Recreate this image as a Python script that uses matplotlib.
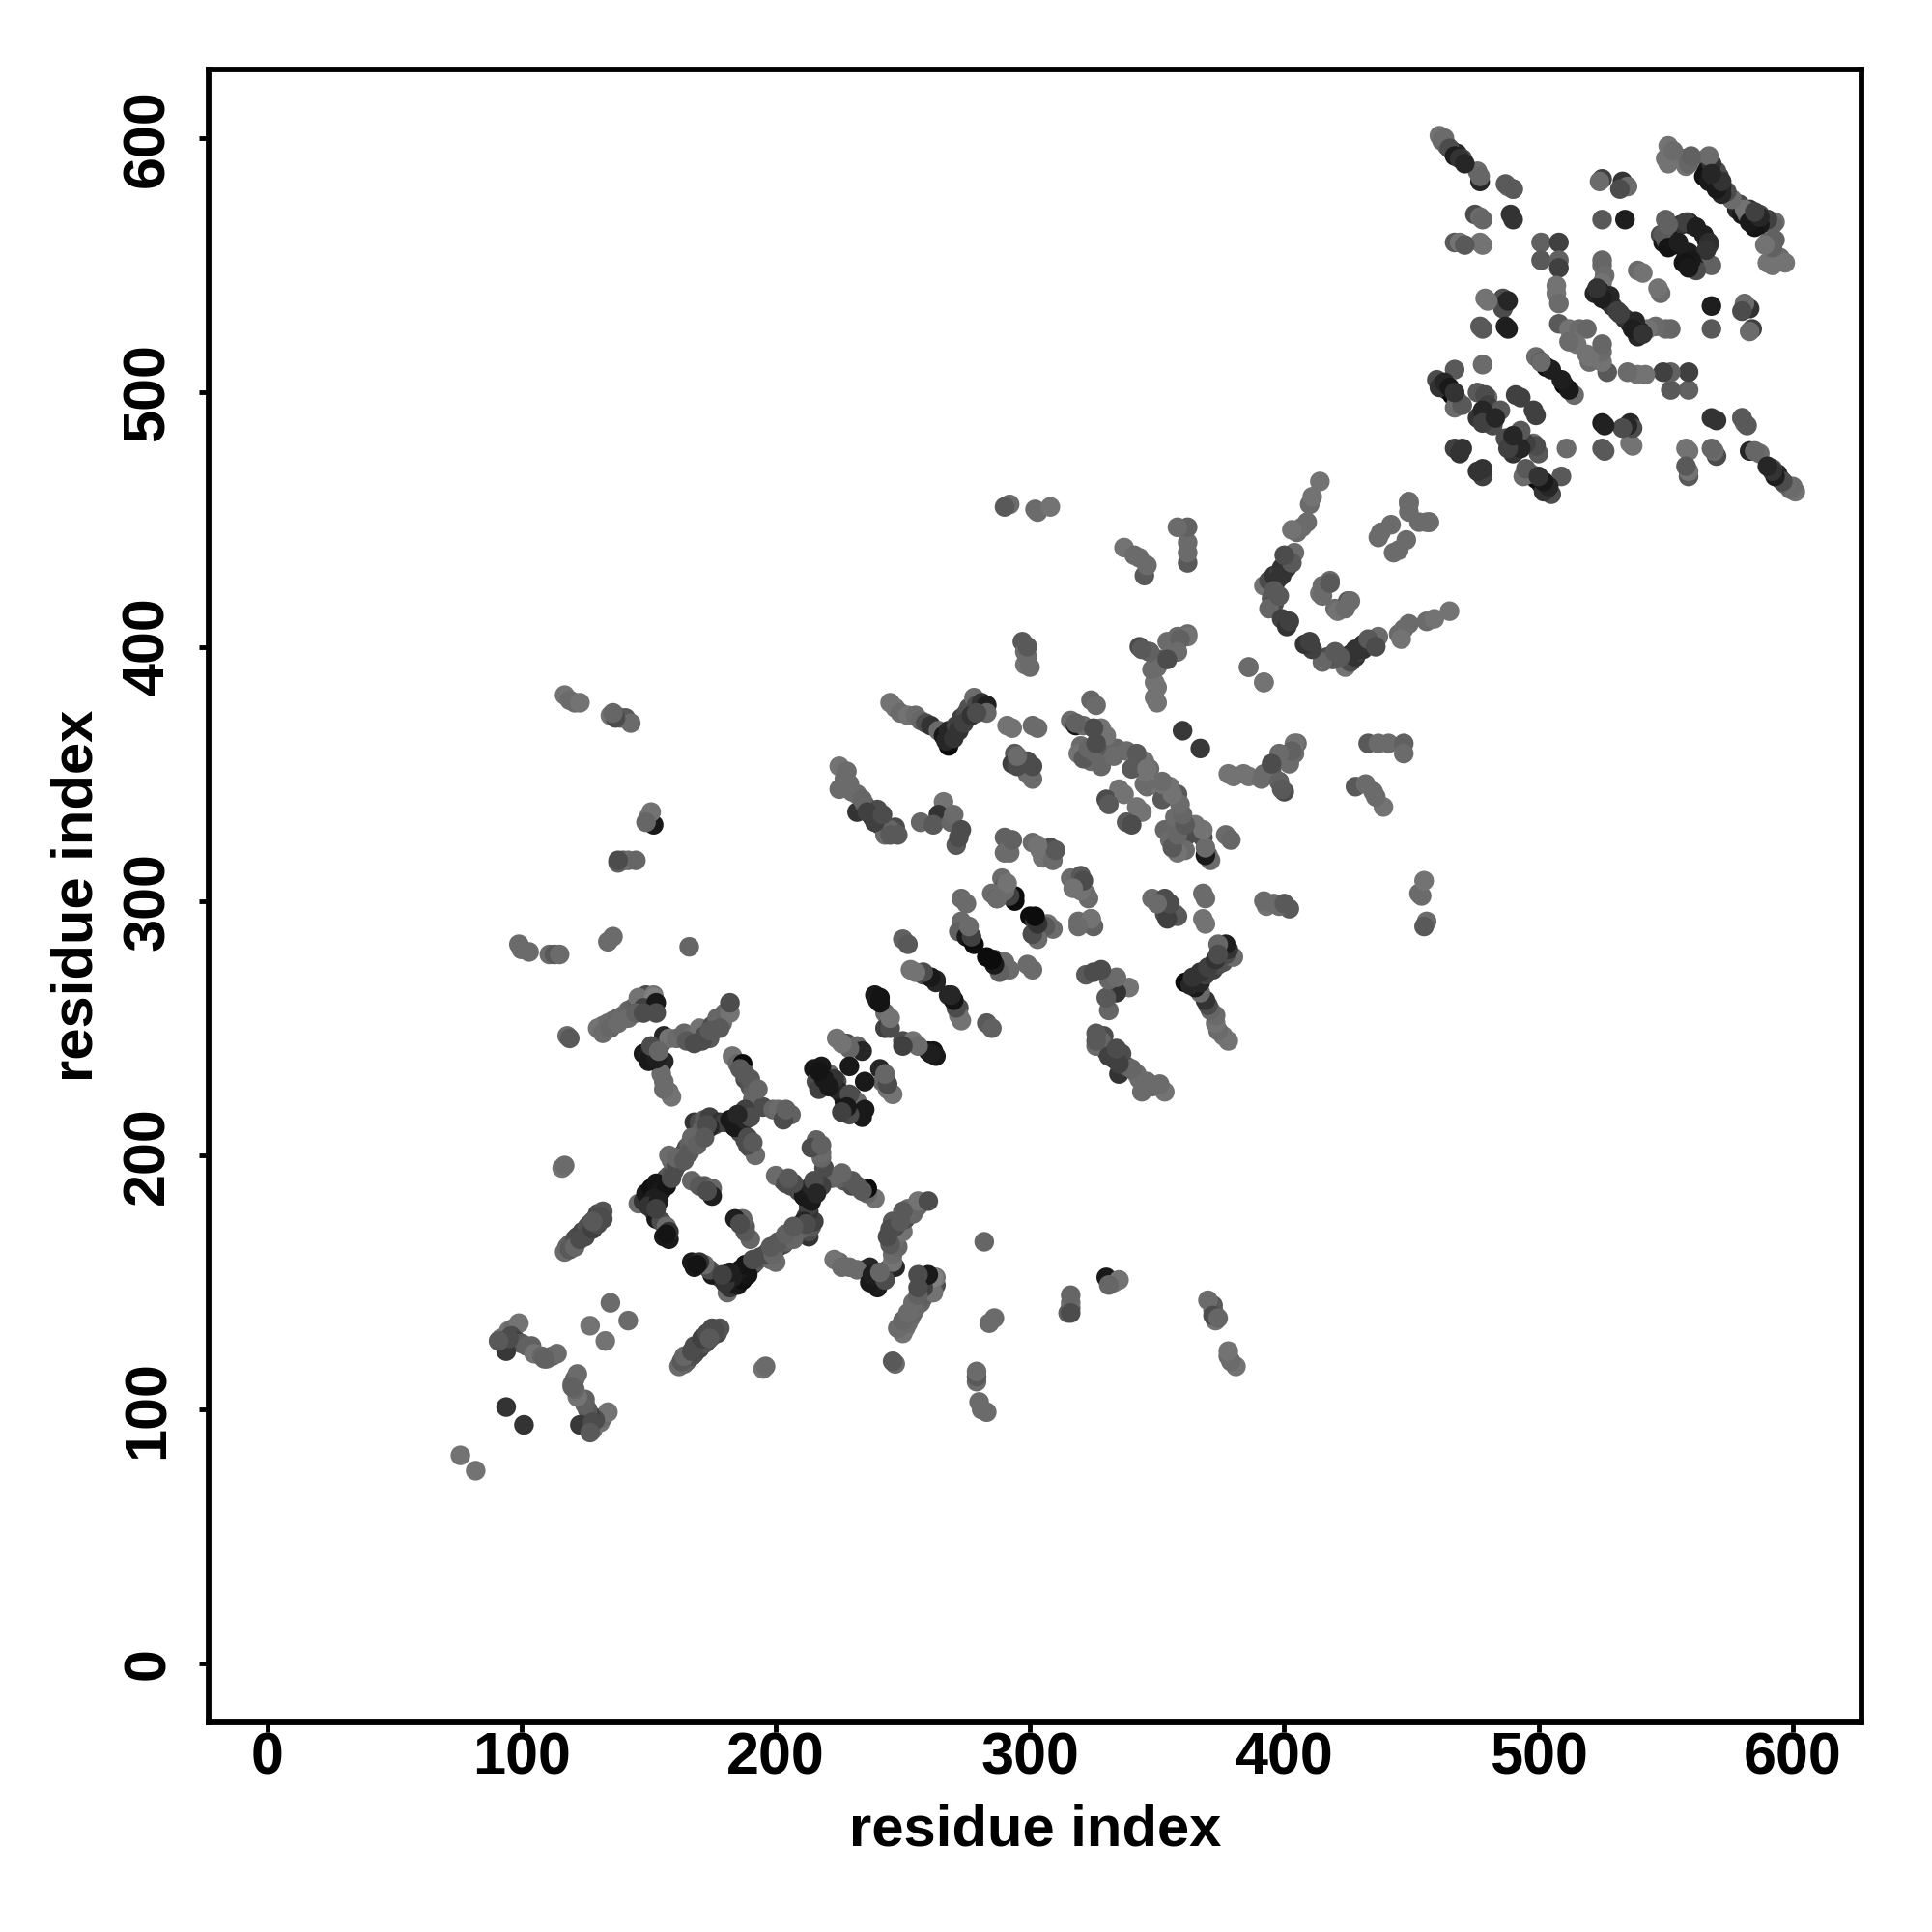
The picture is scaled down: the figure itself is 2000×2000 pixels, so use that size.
import numpy as np
import matplotlib
matplotlib.use('Agg')
import matplotlib.pyplot as plt

plt.rcParams['font.family'] = ['Liberation Sans', 'DejaVu Sans']
plt.rcParams['font.weight'] = 'bold'

### contacts: (residue i, residue j, grey level), map is symmetric
nterm = [(76,82,.45),(94,101,.2),(92,128,.45),(94,124,.35),(95,131,.45),(97,132,.42),(99,134,.45),
    (96,129,.3),(98,127,.25),(100,126,.35),(102,125,.38),(104,125,.38),(105,122,.45),(108,121,.4),
    (110,120,.42),(112,121,.38),(114,122,.42),(109,120,.38),(94,123,.22),(95,128,.3),(91,127,.35),
    (135,142,.42),(127,133,.45)]

strand_116 = [(117,162,.42),(118,164,.4),(119,165,.38),(121,167,.32),(122,168,.3),(124,170,.28),
    (126,172,.33),(127,173,.3),(129,175,.35),(130,177,.3),(132,178,.33),(131,176,.3),
    (116,195,.45),(117,196,.42),(118,247,.42),(119,246,.35),
    (119,163,.35),(121,164,.4),(123,167,.3),(125,168,.3),(128,171,.25),(130,173,.3),(132,175,.3),(128,174,.35)]

strand_130 = [(130,250,.45),(132,251,.45),(134,252,.42),(136,253,.42),(138,254,.4),(140,255,.42),
    (142,257,.4),(144,258,.38),(146,259,.35),(148,260,.35),(150,261,.38),(151,258,.25),(149,263,.3),
    (152,263,.45),(146,262,.45),(152,262,.5),(148,258,.25),(153,260,.1),(153,256,.3),
    (132,248,.42),(135,250,.4),(138,252,.42),(142,254,.42),(145,256,.38),(148,256,.3)]

far_left = [(99,283,.42),(100,281,.42),(103,280,.42),(111,279,.42),(113,279,.35),(115,279,.42),
    (134,284,.42),(136,286,.42),(166,282,.4),(138,315,.38),(140,316,.35),(142,316,.42),(145,316,.4),
    (138,316,.3),(150,333,.45),(152,330,.1),(151,335,.45),(149,331,.4),(117,381,.45),(119,379,.42),
    (121,378,.42),(123,378,.45),(135,373,.45),(137,373,.35),(139,372,.38),(141,372,.35),(143,370,.42),
    (137,372,.3),(136,374,.4)]

hub_240 = [(148,240,.1),(150,241,.12),(152,239,.15),(153,243,.2),(155,244,.3),(156,247,.15),(158,246,.45),
    (161,246,.42),(164,248,.4),(167,247,.42),(170,250,.45),(172,247,.3),(174,246,.35),(171,245,.3),
    (175,251,.3),(177,254,.4),(179,252,.42),(180,256,.4),(182,256,.45),(182,260,.3),(155,235,.12),
    (156,237,.15),(156,229,.42),(155,232,.42),(158,225,.42),(159,223,.45),(156,226,.42),
    (150,237,.1),(153,238,.12),(151,243,.3),(154,241,.4),(165,245,.35),(168,244,.3),(174,249,.35),(178,250,.35)]

hub_215 = [(183,212,.15),(185,213,.1),(186,215,.1),(187,216,.12),(189,217,.2),(190,218,.3),(192,220,.42),
    (191,219,.35),(184,214,.12),(187,214,.2),(168,213,.2),(170,213,.3),(172,214,.35),(174,215,.25),
    (176,212,.3),(178,213,.2),(180,213,.25),(174,211,.15),(183,239,.45),(185,236,.4),(187,236,.05),
    (186,234,.35),(188,230,.3),(190,227,.32),(191,225,.38),(191,222,.4),(195,219,.3),(199,218,.4),
    (201,218,.42),(204,216,.35),(206,216,.38),(186,209,.3),(188,206,.3),(190,203,.3),(192,200,.42),
    (189,204,.3),
    (182,214,.1),(184,211,.1),(186,212,.1),(188,214,.15),(188,218,.25),(190,215,.3),(185,216,.15),
    (188,232,.35),(190,230,.35),(193,226,.4),(189,207,.3),(191,205,.35),(203,214,.3),(204,218,.38)]

hub_185 = [(146,181,.42),(148,182,.2),(150,184,.1),(152,186,.08),(154,187,.08),(155,189,.1),(153,185,.1),
    (157,191,.25),(158,192,.35),(160,194,.3),(159,198,.4),(158,200,.42),(162,197,.25),(163,199,.42),
    (164,201,.28),(165,203,.3),(166,204,.38),(168,206,.42),(170,208,.42),(171,210,.38),(173,212,.3),
    (152,178,.3),(153,175,.1),(155,174,.3),(157,172,.42),(156,168,.1),(158,167,.1),(158,170,.2),
    (167,190,.4),(170,188,.35),(172,188,.35),(175,187,.4),(175,184,.12),(173,186,.3),
    (149,185,.1),(151,187,.06),(153,189,.08),(155,186,.1),(157,188,.08),(152,183,.12),(159,191,.3),
    (161,196,.3),(161,199,.4),(164,198,.35),(166,201,.35),(167,207,.4),(169,204,.38),(172,207,.35),
    (150,180,.2),(154,182,.12),(153,179,.25),(157,169,.08)]

mid_220 = [(225,353,.45),(227,348,.42),(229,346,.42),(232,342,.42),(232,335,.2),(235,338,.35),(240,336,.3),
    (238,333,.15),(241,330,.25),(247,329,.3),(243,326,.42),(245,328,.4),(257,331,.4),(266,339,.45),
    (264,334,.2),(262,330,.35),(269,331,.4),(270,334,.42),(273,328,.3),(271,322,.35),(272,325,.3),
    (221,232,.42),(218,235,.1),(224,246,.45),(228,244,.3),(232,243,.4),(241,234,.15),(242,229,.4),
    (244,226,.45),(226,224,.15),(230,223,.2),(224,229,.3),(239,263,.1),(240,261,.12),(243,256,.42),
    (243,250,.25),(250,245,.3),(254,245,.45),(260,241,.08),(262,241,.08),(253,273,.45),(258,271,.3),
    (261,270,.08),(263,269,.15),(268,263,.15),(270,261,.1),(272,258,.3),(272,255,.45),(283,252,.35),
    (250,285,.38),
    (215,234,.1),(217,234,.1),(216,229,.3),(219,228,.1),(217,226,.25),(225,344,.42),(228,351,.42),
    (230,343,.42),(234,340,.4),(236,335,.25),(239,331,.25),(242,334,.3),(245,326,.35),(248,326,.35),
    (235,229,.1),(227,221,.1),(230,219,.1),(233,217,.08)]

mid_245 = [(245,378,.45),(247,376,.45),(249,374,.42),(252,373,.45),(255,373,.42),(257,371,.4),(259,370,.3),
    (261,369,.2),(264,367,.42),(266,365,.1),(268,361,.05),(268,367,.15),(270,367,.15),(271,369,.25),
    (273,372,.25),(275,374,.3),(276,376,.32),(278,380,.42),(279,377,.3),(281,378,.2),(283,377,.12),
    (283,374,.4),(291,369,.45),(301,369,.42),(294,358,.35),(293,354,.25),(299,355,.3),(299,350,.42),
    (297,402,.35),(298,398,.42),(298,393,.45),
    (267,363,.15),(270,364,.2),(272,367,.2),(274,370,.25),(277,373,.2),(279,374,.3)]

mid_290 = [(290,325,.38),(293,324,.45),(290,319,.42),(301,323,.42),(304,320,.45),(308,321,.3),(305,317,.45),
    (289,309,.42),(290,306,.35),(285,303,.42),(287,301,.3),(291,303,.2),(294,302,.05),(300,294,.05),
    (302,292,.25),(304,290,.42),(307,291,.45),(301,287,.42),(316,309,.42),(320,310,.35),(322,303,.45),
    (319,292,.42),(324,293,.38),(273,301,.42),(273,292,.42),(272,288,.38),(275,286,.1),(277,285,.05),
    (283,278,.05),(286,277,.25),(290,276,.42),(299,275,.42)]

mid_320 = [(316,371,.42),(318,369,.1),(321,369,.42),(324,379,.4),(328,368,.45),(320,361,.42),(319,358,.45),
    (324,355,.42),(321,356,.35),(326,358,.4),(330,361,.35),(334,360,.4),(338,359,.42),(342,356,.45),
    (345,355,.45),(347,352,.42),(335,344,.45),(330,340,.3),(342,337,.45),(338,331,.35),(343,400,.3),
    (347,398,.35),(351,395,.35),(354,402,.42),(358,404,.42),(362,405,.42),(349,386,.45),(349,380,.45),
    (348,391,.42),(360,367,.22),(348,301,.42),(353,301,.3),(353,295,.3),(357,295,.42),(303,368,.42),
    (293,368,.45),(300,392,.42),(299,396,.42),(299,400,.35)]

mid_340 = [(292,456,.42),(290,455,.35),(302,454,.42),(303,453,.42),(308,455,.45),(345,428,.35),(346,432,.42),
    (337,439,.45),(343,435,.42),(341,436,.42),(362,433,.35),(362,437,.42),(362,441,.42),(362,447,.38),
    (358,447,.42),(350,378,.45),(350,384,.45),(350,392,.42),(347,398,.38),(344,399,.35),(362,404,.45),
    (359,403,.38),(358,398,.42),(354,395,.3),(346,345,.42),(351,345,.45),(352,340,.35),(353,328,.4),
    (357,333,.42),(360,323,.4),(365,330,.45),(368,325,.3),(370,318,.38),(377,326,.42),(362,326,.3),
    (358,342,.35),(352,346,.45)]

mid_390 = [(392,424,.45),(394,426,.3),(396,428,.2),(398,429,.25),(399,431,.2),(401,433,.15),(402,435,.35),
    (404,437,.42),(405,445,.42),(407,447,.42),(409,449,.42),(403,446,.45),(410,456,.42),(411,459,.45),
    (414,465,.45),(395,419,.35),(396,417,.3),(394,415,.4),(399,411,.25),(401,408,.2),(402,410,.25),
    (386,392,.45),(392,386,.42),(414,421,.45),(418,426,.42),(415,424,.42),(420,415,.42),(425,418,.35),
    (437,443,.42),(442,448,.42),(449,457,.42),(438,445,.42),(449,456,.42),(453,449,.42),(457,449,.42),
    (397,426,.2),(399,428,.2),(401,431,.2),(403,433,.35),(396,422,.35),(398,420,.35),(400,436,.3)]

top_460 = [(461,601,.45),(462,599,.42),(464,597,.38),(466,595,.2),(468,594,.15),(470,592,.3),(476,587,.42),
    (477,583,.15),(477,585,.4),(488,581,.42),(487,582,.35),(489,570,.2),(475,570,.3),(477,569,.42),
    (467,559,.35),(469,559,.45),(477,559,.45),(501,559,.38),(508,559,.25),(501,552,.35),(508,552,.38),
    (508,549,.25),(507,542,.45),(507,539,.45),(508,535,.42),(479,537,.45),(486,537,.3),(487,535,.15),
    (486,533,.3),(477,526,.35),(487,526,.13),
    (463,600,.42),(465,596,.3),(467,593,.12),(469,592,.2),(471,590,.15)]

top_525 = [(525,584,.25),(524,583,.42),(533,583,.2),(535,581,.42),(532,580,.3),(525,568,.35),(534,568,.12),
    (550,568,.38),(559,567,.18),(556,566,.2),(551,597,.45),(550,592,.45),(557,592,.38),(558,589,.45),
    (566,592,.38),(568,590,.25),(566,587,.1),(568,585,.2),(570,582,.4),(572,581,.45),(576,576,.42),
    (579,574,.3),(581,572,.15),(584,570,.3),(587,570,.3),(590,568,.2),(593,567,.42),(590,559,.4),
    (593,560,.38),(590,551,.45),(595,553,.42),
    (565,585,.08),(567,583,.1),(569,587,.15),(571,585,.25),(578,572,.15),(580,570,.1),(583,572,.2),(586,568,.15)]

top_core = [(550,561,.12),(548,562,.3),(552,560,.1),(566,560,.15),(567,558,.25),(558,553,.1),(560,550,.3),
    (562,549,.35),(566,551,.38),(525,550,.42),(525,552,.4),(526,546,.42),(525,543,.45),(524,540,.1),
    (522,539,.15),(527,536,.1),(529,534,.2),(539,548,.42),(541,547,.45),(508,527,.35),(512,525,.45),
    (516,525,.42),(514,520,.45),(519,525,.4),(519,515,.45),(520,512,.42),
    (551,558,.08),(549,559,.1),(557,551,.08),(559,555,.12),(565,562,.12),(528,538,.15),(525,537,.12),(523,541,.2),
    (531,532,.25)]

bottom_460 = [(503,510,.05),(499,514,.42),(501,512,.1),(505,509,.12),(512,501,.42),(467,509,.35),(478,511,.42),
    (460,505,.3),(462,503,.1),(464,501,.15),(466,499,.05),(468,497,.4),(467,494,.42),(470,495,.35),
    (476,500,.35),(480,498,.42),(476,490,.2),(481,489,.42),(479,499,.3),(491,499,.25),(493,498,.25),
    (467,478,.25),(469,476,.2),(470,478,.2),(482,487,.3),(477,491,.2),(480,495,.25),(485,493,.35),
    (461,502,.2),(463,504,.15),(465,502,.1),(467,500,.2),(478,493,.15),(478,488,.25),(483,490,.15)]

far_right = [(490,580,.42),(525,488,.12),(536,488,.15),(536,480,.45),(525,478,.35),(490,568,.2),(490,580,.35),
    (478,558,.45),(471,558,.35),(478,568,.4)]

regions = [nterm, strand_116, strand_130, far_left, hub_240, hub_215, hub_185, mid_220, mid_245,
           mid_290, mid_320, mid_340, mid_390, top_460, top_525, top_core, bottom_460, far_right]

x_ticks = [0, 100, 200, 300, 400, 500, 600]
y_ticks = [0, 100, 200, 300, 400, 500, 600]

contacts = np.array([c for region in regions for c in region])
res_i = contacts[:, 0]
res_j = contacts[:, 1]
grey = contacts[:, 2]

fig = plt.figure(figsize=(20, 20), dpi=100)
ax = fig.add_axes([216/2000, 1-1783/2000, 1711/2000, 1711/2000])

# both halves of the map, point size fixed
ax.scatter(np.r_[res_i, res_j], np.r_[res_j, res_i], s=215, c=np.r_[grey, grey],
           cmap='gray', vmin=0, vmax=1, linewidths=0, zorder=3)

ax.set_xlim(-23, 627)
ax.set_ylim(-23, 627)
ax.set_xticks(x_ticks)
ax.set_yticks(y_ticks)
ax.tick_params(axis='x', length=7, width=3.5, labelsize=44, pad=0)
ax.tick_params(axis='y', length=7, width=3.5, labelsize=44, pad=17)
for lab in ax.get_yticklabels():
    lab.set_rotation(90)
    lab.set_va('center')
for s in ax.spines.values():
    s.set_linewidth(4.2)

ax.set_xlabel('residue index', fontsize=43, fontweight='bold', labelpad=13)
ax.set_ylabel('residue index', fontsize=43, fontweight='bold', labelpad=13)

fig.savefig('out.png', dpi=100)
